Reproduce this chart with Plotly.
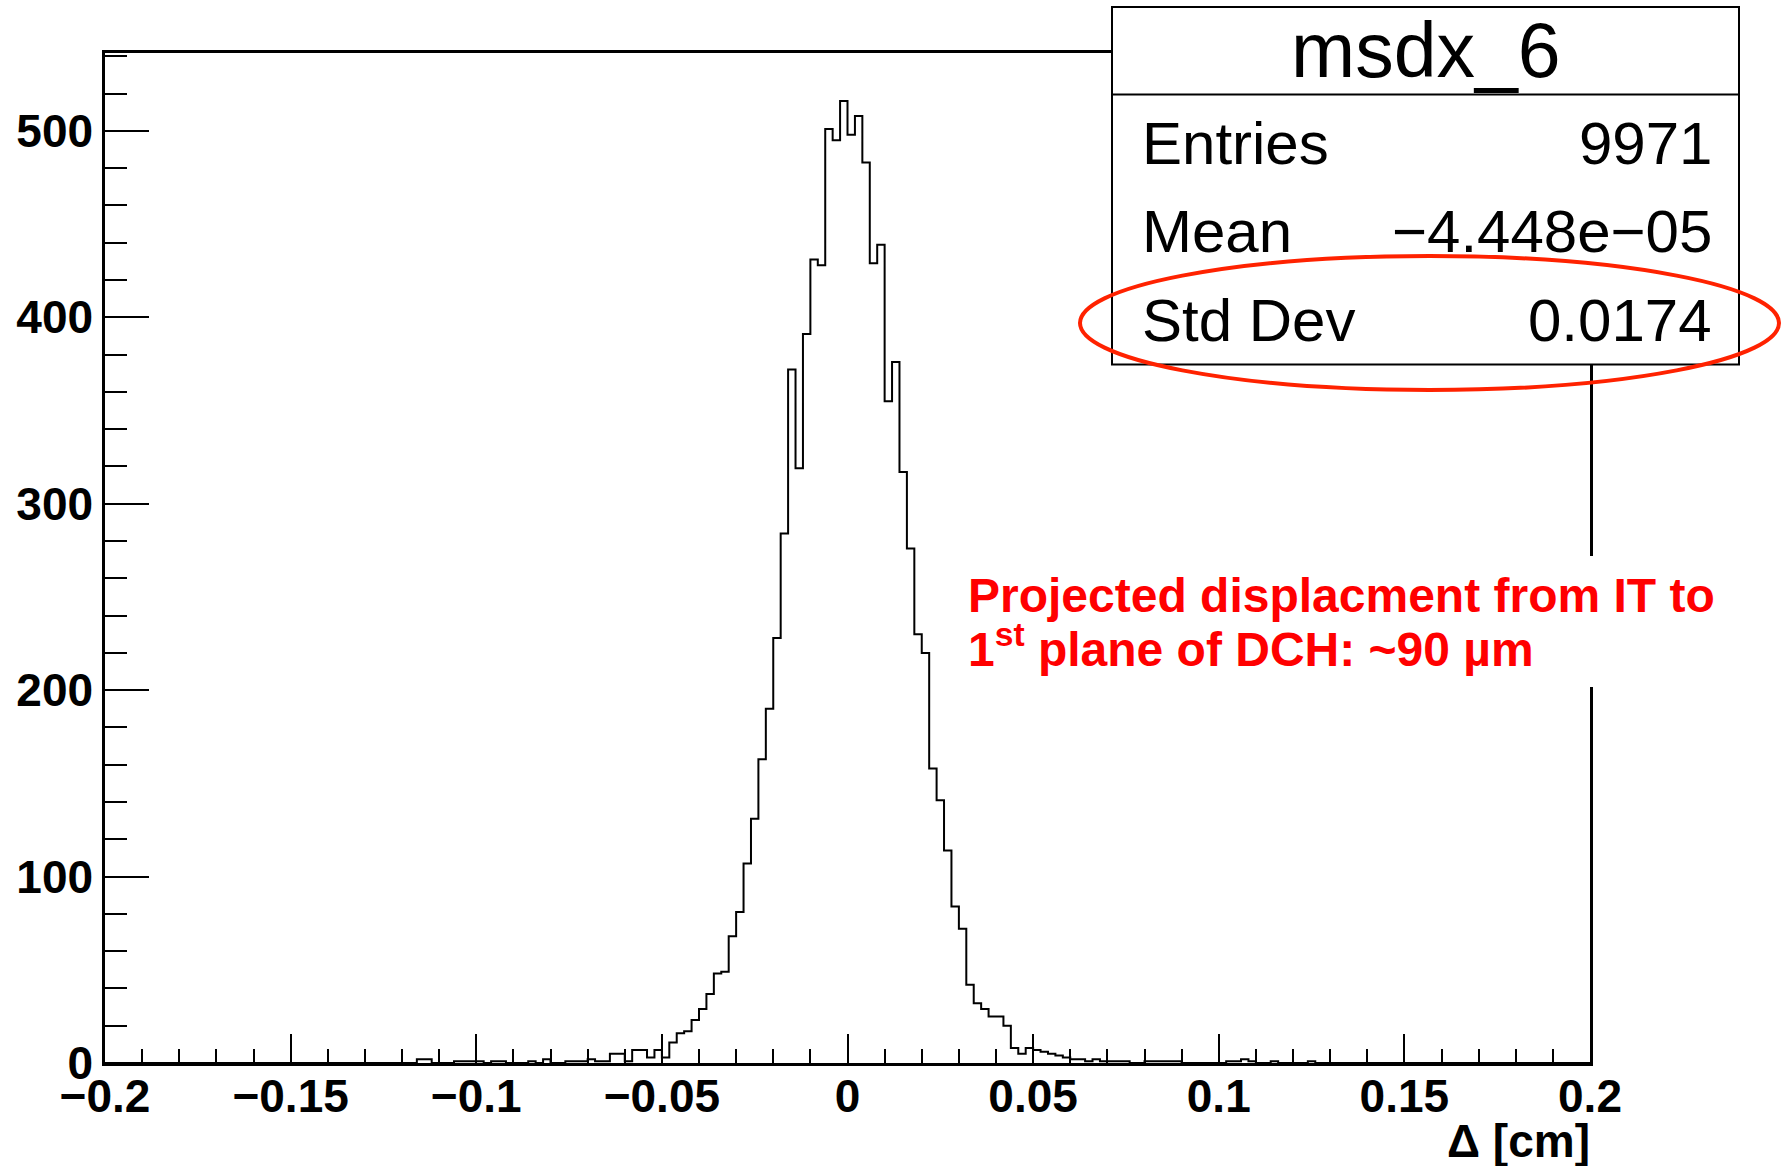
import numpy as np
import plotly.graph_objects as go

# ---------------- data ----------------
x_min, x_max = -0.2, 0.2
bin_width = 0.002
# 200 bins of 0.002 cm from -0.2 to 0.2
counts = [
    0, 0, 0, 0, 0, 0, 0, 0, 0, 0, 0, 0, 0, 0, 0, 0, 0, 0, 0, 0,          # -0.200 .. -0.162
    0, 0, 0, 0, 0, 0, 0, 0, 0, 0, 0, 0, 0, 0, 0, 0, 0, 0, 0, 0,          # -0.160 .. -0.122
    0, 0, 2, 2, 0, 0, 0, 1, 1, 1, 1, 0, 1, 1, 0, 0, 0, 1, 0, 2,          # -0.120 .. -0.082
    0, 0, 1, 1, 1, 2, 1, 1, 5, 5, 1, 7, 7, 3, 7, 3, 11, 16, 17, 23,      # -0.080 .. -0.042
    29, 37, 48, 49, 68, 81, 107, 131, 163, 190,
    228, 284, 372, 319, 391, 431, 428, 501, 495, 516,                    # -0.040 .. -0.002
    498, 508, 483, 429, 439, 355, 376, 317, 276, 230,
    220, 158, 141, 114, 84, 72, 42, 32, 29, 25,                          #  0.000 .. 0.038
    25, 20, 8, 5, 8, 7, 6, 5, 4, 3, 2, 2, 1, 2, 1, 1, 1, 1, 0, 0,        #  0.040 .. 0.078
    1, 1, 1, 1, 1, 0, 0, 0, 0, 0, 0, 1, 1, 2, 1, 0, 0, 1, 0, 0,          #  0.080 .. 0.118
    0, 0, 1, 0, 0, 0, 0, 0, 0, 0, 0, 0, 0, 0, 0, 0, 0, 0, 0, 0,          #  0.120 .. 0.158
    0, 0, 0, 0, 0, 0, 0, 0, 0, 0, 0, 0, 0, 0, 0, 0, 0, 0, 0, 0,          #  0.160 .. 0.198
]
y_max = 541.8
x_tick_vals = [-0.2, -0.15, -0.1, -0.05, 0, 0.05, 0.1, 0.15, 0.2]
x_tick_text = ["\u22120.2", "\u22120.15", "\u22120.1", "\u22120.05", "0", "0.05", "0.1", "0.15", "0.2"]
y_tick_vals = [0, 100, 200, 300, 400, 500]
y_tick_text = ["0", "100", "200", "300", "400", "500"]
x_title = "\u0394 [cm]"
stats_title = "msdx_6"
stats_labels = ["Entries", "Mean", "Std Dev"]
stats_values = ["9971", "\u22124.448e\u221205", "0.0174"]
note_line1 = "Projected displacment from IT to"
note_line2 = "1<sup>st</sup> plane of DCH: ~90 \u00b5m"

# ---------------- geometry ----------------
W, H = 1786, 1166
L, R, T, B = 105, 196, 53, 103
PW, PH = W - L - R, H - T - B


def px(xp):
    return (xp - L) / PW


def py(yp):
    return (H - B - yp) / PH


edges = np.round(x_min + bin_width * np.arange(len(counts) + 1), 6)
ys = list(counts) + [counts[-1]]

FONT = "Liberation Sans, Arial, Helvetica, sans-serif"

fig = go.Figure()
fig.add_trace(go.Scatter(
    x=edges, y=ys, mode="lines", line=dict(color="black", width=2, shape="hv"),
    hoverinfo="skip", showlegend=False, cliponaxis=True,
))

fig.update_layout(
    width=W, height=H,
    margin=dict(l=L, r=R, t=T, b=B, pad=0),
    paper_bgcolor="white", plot_bgcolor="white",
    font=dict(family=FONT, color="black"),
    showlegend=False,
)
fig.update_xaxes(
    range=[x_min, x_max], tickvals=x_tick_vals, ticktext=x_tick_text,
    ticks="inside", ticklen=29, tickwidth=2, tickcolor="black",
    minor=dict(dtick=0.01, tick0=0, ticks="inside", ticklen=14, tickwidth=2, tickcolor="black", showgrid=False),
    showline=True, linewidth=2.5, linecolor="black", mirror=True,
    showgrid=False, zeroline=False, ticklabelstandoff=-9,
    tickfont=dict(family=FONT, size=46, weight="bold"),
)
fig.update_yaxes(
    range=[0, y_max], tickvals=y_tick_vals, ticktext=y_tick_text,
    ticks="inside", ticklen=44, tickwidth=2, tickcolor="black",
    minor=dict(dtick=20, tick0=0, ticks="inside", ticklen=22, tickwidth=2, tickcolor="black", showgrid=False),
    showline=True, linewidth=2.5, linecolor="black", mirror=True,
    showgrid=False, zeroline=False,
    tickfont=dict(family=FONT, size=46, weight="bold"),
)

shapes = []
# white box behind the red note (hides frame)
shapes.append(dict(type="rect", xref="paper", yref="paper", layer="above",
                   x0=px(955), x1=px(1725), y0=py(687), y1=py(556),
                   fillcolor="white", line=dict(width=0)))
# stats box
shapes.append(dict(type="rect", xref="paper", yref="paper", layer="above",
                   x0=px(1112), x1=px(1739), y0=py(364.5), y1=py(7),
                   fillcolor="white", line=dict(color="black", width=2)))
shapes.append(dict(type="line", xref="paper", yref="paper", layer="above",
                   x0=px(1112), x1=px(1739), y0=py(94.5), y1=py(94.5),
                   line=dict(color="black", width=2)))
# red ellipse
shapes.append(dict(type="circle", xref="paper", yref="paper", layer="above",
                   x0=px(1080), x1=px(1779), y0=py(390), y1=py(256),
                   line=dict(color="#ff2200", width=4), fillcolor="rgba(0,0,0,0)"))
fig.update_layout(shapes=shapes)

ann = []
ann.append(dict(xref="paper", yref="paper", x=px(1425.5), y=py(50), xanchor="center", yanchor="middle",
                text=stats_title, showarrow=False, font=dict(family=FONT, size=77, color="black")))
row_y = [143.5, 231.5, 320.5]
for lab, val, yy in zip(stats_labels, stats_values, row_y):
    ann.append(dict(xref="paper", yref="paper", x=px(1140), y=py(yy), xanchor="left", yanchor="middle",
                    text=lab, showarrow=False, font=dict(family=FONT, size=60, color="black")))
    ann.append(dict(xref="paper", yref="paper", x=px(1714), y=py(yy), xanchor="right", yanchor="middle",
                    text=val, showarrow=False, font=dict(family=FONT, size=60, color="black")))
ann.append(dict(xref="paper", yref="paper", x=px(966), y=py(595), xanchor="left", yanchor="middle",
                text=note_line1, showarrow=False, font=dict(family=FONT, size=48, color="#ff0000", weight="bold")))
ann.append(dict(xref="paper", yref="paper", x=px(966), y=py(646), xanchor="left", yanchor="middle",
                text=note_line2, showarrow=False, font=dict(family=FONT, size=48, color="#ff0000", weight="bold")))
ann.append(dict(xref="paper", yref="paper", x=px(1592), y=py(1141), xanchor="right", yanchor="middle",
                text=x_title, showarrow=False, font=dict(family=FONT, size=46, color="black", weight="bold")))
fig.update_layout(annotations=ann)

fig.write_html("out.html", config={"displayModeBar": False},
               post_script="document.body.style.margin='0';document.body.style.overflow='hidden';")
